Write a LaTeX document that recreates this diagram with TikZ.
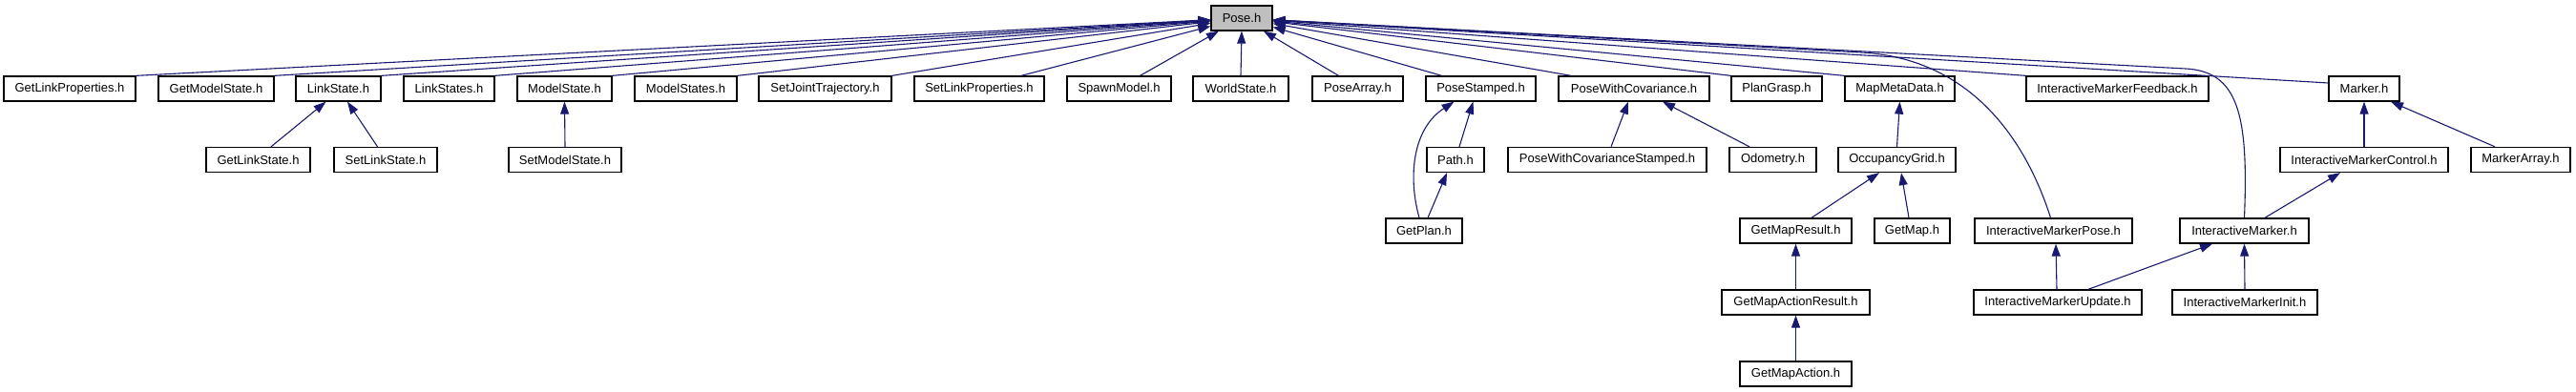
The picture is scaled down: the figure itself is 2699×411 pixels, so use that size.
\documentclass[tikz,border=0pt]{standalone}
\usepackage{fontspec}
\setmainfont{Liberation Sans}
\usetikzlibrary{arrows.meta}
\definecolor{edgec}{HTML}{191970}
\definecolor{posefill}{HTML}{BFBFBF}
\begin{document}
\begin{tikzpicture}[x=1pt,y=-1pt,
  box/.style={draw=black, line width=1.3pt, fill=white, inner sep=0pt, minimum height=26pt, font=\fontsize{13}{15}\selectfont, anchor=center},
  dep/.style={draw=edgec, line width=1.1pt, -{Triangle[length=13pt,width=9pt]}}]
\useasboundingbox (0,0) rectangle (2699,411);
% row 0
\node[box, fill=posefill, minimum width=64pt] (pose) at (1301,19) {Pose.h};
% row 1
\node[box, minimum width=138pt] (glp) at (73,93) {GetLinkProperties.h};
\node[box, minimum width=121pt] (gms) at (226.5,93) {GetModelState.h};
\node[box, minimum width=89pt] (ls) at (354.5,93) {LinkState.h};
\node[box, minimum width=95pt] (lss) at (470.5,93) {LinkStates.h};
\node[box, minimum width=99pt] (ms) at (591.5,93) {ModelState.h};
\node[box, minimum width=107pt] (mss) at (718.5,93) {ModelStates.h};
\node[box, minimum width=139pt] (sjt) at (864.5,93) {SetJointTrajectory.h};
\node[box, minimum width=136pt] (slp) at (1026,93) {SetLinkProperties.h};
\node[box, minimum width=109pt] (sm) at (1172.5,93) {SpawnModel.h};
\node[box, minimum width=100pt] (ws) at (1300,93) {WorldState.h};
\node[box, minimum width=95pt] (pa) at (1422.5,93) {PoseArray.h};
\node[box, minimum width=115pt] (ps) at (1551.5,93) {PoseStamped.h};
\node[box, minimum width=158pt] (pwc) at (1712,93) {PoseWithCovariance.h};
\node[box, minimum width=95pt] (pg) at (1861.5,93) {PlanGrasp.h};
\node[box, minimum width=115pt] (mmd) at (1990.5,93) {MapMetaData.h};
\node[box, minimum width=191pt] (imf) at (2218.5,93) {InteractiveMarkerFeedback.h};
\node[box, minimum width=74pt] (mk) at (2477,93) {Marker.h};
% row 2
\node[box, minimum width=109pt] (gls) at (270.5,167.5) {GetLinkState.h};
\node[box, minimum width=108pt] (sls) at (404,167.5) {SetLinkState.h};
\node[box, minimum width=118pt] (sms) at (592,167.5) {SetModelState.h};
\node[box, minimum width=60pt] (path) at (1525,167.5) {Path.h};
\node[box, minimum width=208pt] (pwcs) at (1684,167.5) {PoseWithCovarianceStamped.h};
\node[box, minimum width=91pt] (odo) at (1857.5,167.5) {Odometry.h};
\node[box, minimum width=123pt] (og) at (1987.5,167.5) {OccupancyGrid.h};
\node[box, minimum width=176pt] (imc) at (2477,167.5) {InteractiveMarkerControl.h};
\node[box, minimum width=104pt] (ma) at (2641,167.5) {MarkerArray.h};
% row 3
\node[box, minimum width=80pt] (gp) at (1492,242) {GetPlan.h};
\node[box, minimum width=117pt] (gmr) at (1881.5,242) {GetMapResult.h};
\node[box, minimum width=79pt] (gm) at (2003.5,242) {GetMap.h};
\node[box, minimum width=165pt] (imp) at (2151.5,242) {InteractiveMarkerPose.h};
\node[box, minimum width=135pt] (im) at (2351.5,242) {InteractiveMarker.h};
% row 4
\node[box, minimum width=155pt] (gmar) at (1881.5,317) {GetMapActionResult.h};
\node[box, minimum width=176pt] (imu) at (2156,317) {InteractiveMarkerUpdate.h};
\node[box, minimum width=152pt] (imi) at (2352,317) {InteractiveMarkerInit.h};
% row 5
\node[box, minimum width=117pt] (gma) at (1881.5,392) {GetMapAction.h};

% edges into Pose.h
\draw[dep] (glp.north east) -- (pose);
\draw[dep] (gms.north east) -- (pose);
\draw[dep] (ls.north east) -- (pose);
\draw[dep] (lss.north east) -- (pose);
\draw[dep] (ms.north east) -- (pose);
\draw[dep] (mss.north east) -- (pose);
\draw[dep] (sjt.north east) -- (pose);
\draw[dep] ([xshift=44pt]slp.north) -- (pose);
\draw[dep] ([xshift=22pt]sm.north) -- (pose);
\draw[dep] (ws.north) -- (pose.south);
\draw[dep] ([xshift=-20pt]pa.north) -- (pose);
\draw[dep] ([xshift=-41pt]ps.north) -- (pose);
\draw[dep] ([xshift=-66pt]pwc.north) -- (pose);
\draw[dep] (pg.north west) -- (pose);
\draw[dep] (mmd.north west) -- (pose);
\draw[dep] (imf.north west) -- (pose);
\draw[dep] ([yshift=6pt]mk.west) -- (pose);
\draw[dep] ([xshift=-3pt]imp.north) .. controls (2130,170) and (2080,62) .. (1950,55) -- (pose);
\draw[dep] (im.north) .. controls (2356,120) and (2345,75) .. (2290,72) -- (pose);

% lower edges
\draw[dep] ([xshift=13.5pt]gls.north) -- ([xshift=-13pt]ls.south);
\draw[dep] ([xshift=-8.5pt]sls.north) -- ([xshift=9.5pt]ls.south);
\draw[dep] (sms.north) -- (ms.south);
\draw[dep] ([xshift=4pt]path.north) -- ([xshift=-8pt]ps.south);
\draw[dep] ([xshift=-5pt]gp.north) .. controls (1475,185) and (1480,135) .. ([xshift=-28pt]ps.south);
\draw[dep] ([xshift=4pt]gp.north) -- ([xshift=-9pt]path.south);
\draw[dep] ([xshift=4pt]pwcs.north) -- ([xshift=-6pt]pwc.south);
\draw[dep] ([xshift=-24.5pt]odo.north) -- ([xshift=30pt]pwc.south);
\draw[dep] (og.north) -- (mmd.south);
\draw[dep] ([xshift=16.5pt]gmr.north) -- ([xshift=-18.5pt]og.south);
\draw[dep] ([xshift=-3.5pt]gm.north) -- ([xshift=4.5pt]og.south);
\draw[dep] (gmar.north) -- (gmr.south);
\draw[dep] (gma.north) -- (gmar.south);
\draw[dep] ([xshift=-1pt]imu.north) -- ([xshift=2.5pt]imp.south);
\draw[dep] ([xshift=32pt]imu.north) -- ([xshift=-33.5pt]im.south);
\draw[dep] (imi.north) -- (im.south);
\draw[dep] ([xshift=21.5pt]im.north) -- ([xshift=-25pt]imc.south);
\draw[dep] (imc.north) -- (mk.south);
\draw[dep] ([xshift=-27pt]ma.north) -- ([xshift=28pt]mk.south);
\end{tikzpicture}
\end{document}
